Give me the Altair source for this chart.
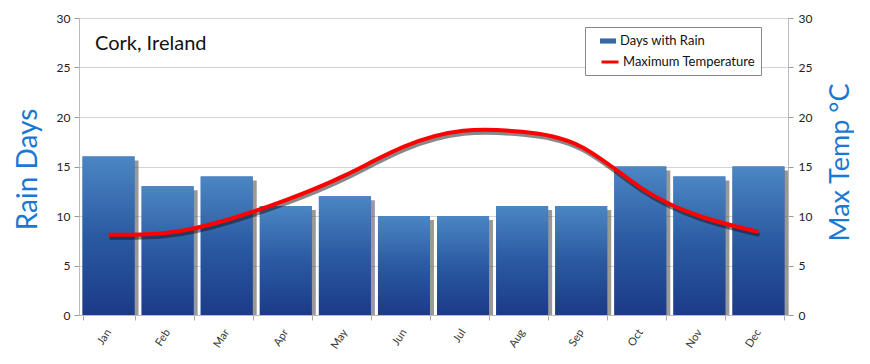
import altair as alt
import pandas as pd

months = ["Jan", "Feb", "Mar", "Apr", "May", "Jun", "Jul", "Aug", "Sep", "Oct", "Nov", "Dec"]
rain_days = [16, 13, 14, 11, 12, 10, 10, 11, 11, 15, 14, 15]
max_temp = [8.1, 8.3, 9.6, 11.6, 14.1, 17.0, 18.6, 18.5, 17.0, 12.9, 10.0, 8.4]
rain_label = "Days with Rain"
temp_label = "Maximum Temperature"
title_text = "Cork, Ireland"
y_ticks = [0, 5, 10, 15, 20, 25, 30]

df = pd.DataFrame({"month": months, "rain": rain_days, "temp": max_temp,
                   "rs": [rain_label] * 12, "ts": [temp_label] * 12})

FONT = "Lato"
BLUE_T = "#1a78d2"
PAD_LABEL = "datum.label + '\u2003\u2003\u2003'"

x = alt.X("month:N", sort=months, title=None,
          scale=alt.Scale(paddingInner=0.12, paddingOuter=0.06),
          axis=alt.Axis(labelAngle=303, labelFontSize=11, labelColor="#333", labelFont=FONT,
                        tickBand="extent", tickSize=5, tickColor="#aaa", domainColor="#bbb",
                        labelPadding=10, grid=False))

yscale = alt.Scale(domain=[0, 30], nice=False)

yL = alt.Y("rain:Q", scale=yscale,
           axis=alt.Axis(values=y_ticks, title="Rain Days", titleFontSize=28, titleColor=BLUE_T,
                         titleFont=FONT, titleFontWeight="normal", titleAngle=270,
                         titleX=-43, titleY=151, titleBaseline="alphabetic", titleAlign="center",
                         labelFontSize=12, labelColor="#222", labelFont=FONT, tickSize=5,
                         tickColor="#999", domainColor="#bbb", gridColor="#d4d4d4",
                         labelPadding=4, grid=True))

yR = alt.Y("temp:Q", scale=yscale,
           axis=alt.Axis(orient="right", values=y_ticks, title="Max Temp °C", titleFontSize=27,
                         titleColor=BLUE_T, titleFont=FONT, titleFontWeight="normal",
                         titleAngle=270, titleX=60, titleY=144, titleBaseline="alphabetic",
                         titleAlign="center", labelFontSize=12, labelColor="#222", labelFont=FONT,
                         tickSize=5, tickColor="#999", domainColor="#bbb", labelPadding=5,
                         grid=False))

base = alt.Chart(df)

grad = alt.Gradient(gradient="linear", x1=0, x2=0, y1=1, y2=0,
                    stops=[alt.GradientStop(color="#1c3a88", offset=0),
                           alt.GradientStop(color="#2a5aa2", offset=0.5),
                           alt.GradientStop(color="#4c86c3", offset=1)])

bar_shadow = base.mark_bar(color="#555", opacity=0.6, xOffset=4, yOffset=4, clip=True).encode(x=x, y=yL)
bar_solid = base.mark_bar().encode(
    x=x, y=yL,
    fill=alt.Fill("rs:N", scale=alt.Scale(domain=[rain_label], range=["#3566a8"]),
                  legend=alt.Legend(title=None, orient="none", legendX=521, legendY=15,
                                    symbolType="M-1,-0.32H1V0.32H-1Z", symbolSize=256,
                                    labelFont=FONT, labelFontSize=13, labelColor="#111",
                                    labelOffset=4, padding=0, symbolStrokeWidth=0, zindex=2)))
bar_grad = base.mark_bar(color=grad).encode(x=x, y=yL)

bars = alt.layer(bar_shadow, bar_solid, bar_grad)

line_shadow = base.mark_line(color="#111", opacity=0.5, strokeWidth=4, xOffset=1, yOffset=3,
                             interpolate="natural").encode(x=x, y=yR)
line = base.mark_line(strokeWidth=4, interpolate="natural").encode(
    x=x, y=yR,
    stroke=alt.Stroke("ts:N", scale=alt.Scale(domain=[temp_label], range=["#ff0000"]),
                      legend=alt.Legend(title="\u00a0", titleFontSize=14, titlePadding=5,
                                        orient="none", legendX=506, legendY=9,
                                        symbolType="stroke", symbolSize=289, symbolStrokeWidth=3,
                                        strokeColor="#888", fillColor="white", padding=6,
                                        symbolOffset=9, labelOffset=3, labelFont=FONT,
                                        labelFontSize=13, labelColor="#111", zindex=1,
                                        labelExpr=PAD_LABEL)))
lines = alt.layer(line_shadow, line)

chart = alt.layer(bars, lines).resolve_scale(y="independent").properties(
    width=709, height=297,
    autosize=alt.AutoSizeParams(type="none"),
    padding={"left": 71, "top": 10, "right": 66, "bottom": 40},
    title=alt.TitleParams(title_text, anchor="start", frame="group", fontSize=20, font=FONT,
                          fontWeight="normal", color="#111", dx=16, dy=58, offset=0,
                          baseline="alphabetic"),
    background="white",
).configure_view(stroke=None)

chart.save("out.html", embed_options={"renderer": "svg", "actions": False})
